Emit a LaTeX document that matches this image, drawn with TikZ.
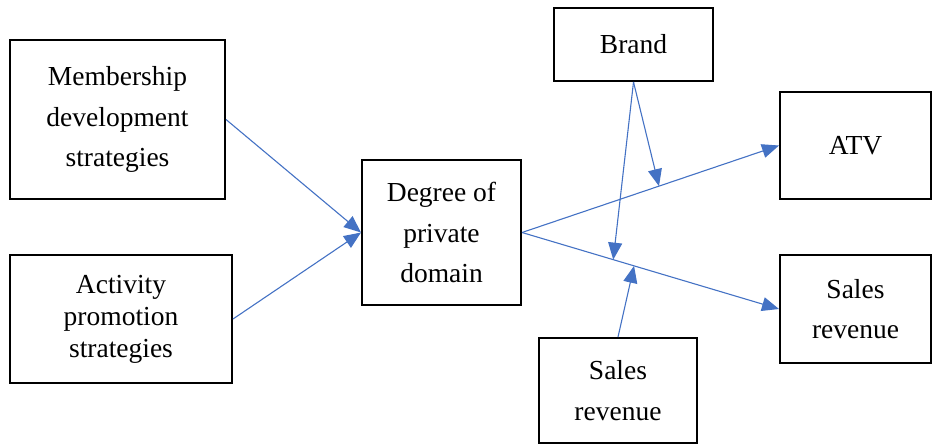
\documentclass[tikz,border=0pt]{standalone}
\usepackage{fontspec}
\setmainfont{Liberation Serif}
\newfontfamily\boxfont{Liberation Serif}
\usetikzlibrary{arrows.meta,calc}
\definecolor{linkblue}{HTML}{4472C4}
\tikzset{
  box/.style={draw=black, line width=2pt, inner sep=0pt, align=center,
    font=\boxfont\fontsize{27.5}{40.5}\selectfont},
  link/.style={draw=linkblue, line width=1.1pt,
    -{Triangle[length=17pt,width=14pt]}},
}
\begin{document}
\begin{tikzpicture}[x=1pt, y=-1pt]
\useasboundingbox (0,0) rectangle (933,445);

% boxes
\node[box, minimum width=215pt, minimum height=159pt] (mem) at (117.5,119.5)
  {Membership\\development\\strategies};
\node[box, minimum width=222pt, minimum height=128pt,
  font=\boxfont\fontsize{27.5}{32}\selectfont] (act) at (121,319)
  {Activity\\promotion\\strategies};
\node[box, minimum width=159pt, minimum height=145pt] (deg) at (441.5,232.5)
  {Degree of\\private\\domain};
\node[box, minimum width=159pt, minimum height=73pt] (brand) at (633.5,44.5)
  {Brand};
\node[box, minimum width=151pt, minimum height=107pt] (atv) at (855.5,145.5)
  {ATV};
\node[box, minimum width=151pt, minimum height=108pt] (salesR) at (855.5,309)
  {Sales\\revenue};
\node[box, minimum width=158pt, minimum height=105pt] (salesB) at (618,390.5)
  {Sales\\revenue};

% points on the outgoing paths where the moderators act
\coordinate (onatv) at ($(deg.east)!0.533!(atv.west)$);
\coordinate (onsalesA) at ($(deg.east)!0.355!(salesR.west)$);
\coordinate (onsalesB) at ($(deg.east)!0.436!(salesR.west)$);

% connectors
\draw[link] (mem.east) -- (deg.west);
\draw[link] (act.east) -- (deg.west);
\draw[link] (deg.east) -- (atv.west);
\draw[link] (deg.east) -- (salesR.west);
\draw[link] (brand.south) -- (onatv);
\draw[link] (brand.south) -- (onsalesA);
\draw[link] (salesB.north) -- (onsalesB);
\end{tikzpicture}
\end{document}
